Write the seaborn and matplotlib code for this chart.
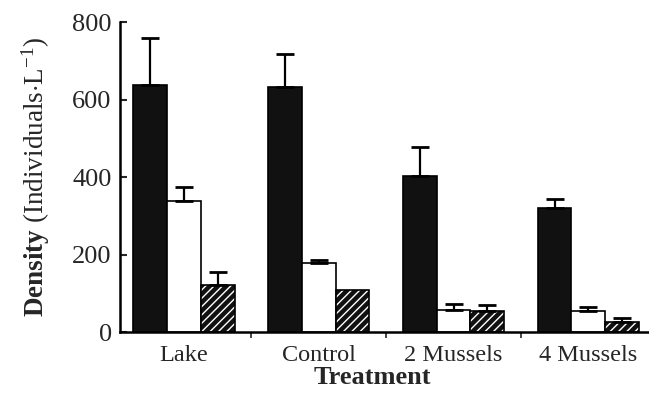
import matplotlib
matplotlib.use("Agg")
import matplotlib.pyplot as plt
import seaborn as sns
import pandas as pd
import numpy as np
from matplotlib.patches import Rectangle

treatments = ["Lake", "Control", "2 Mussels", "4 Mussels"]
series = ["A", "B", "C"]
means_A = [638, 633, 402, 321]
means_B = [339, 179, 57, 54]
means_C = [121, 108, 55, 27]
upper_A = [760, 717, 477, 343]
upper_B = [374, 186, 72, 65]
upper_C = [155, 108, 70, 37]
yticks = [0, 200, 400, 600, 800]

sns.set_theme(style="ticks")
plt.rcParams["font.family"] = ["Liberation Serif", "DejaVu Serif"]
plt.rcParams["mathtext.fontset"] = "custom"
plt.rcParams["mathtext.rm"] = "Liberation Serif"
plt.rcParams["mathtext.bf"] = "Liberation Serif:bold"
plt.rcParams["mathtext.it"] = "Liberation Serif:italic"

rows = []
for s, m in zip(series, [means_A, means_B, means_C]):
    for t, v in zip(treatments, m):
        rows.append({"Treatment": t, "Series": s, "Density": v})
df = pd.DataFrame(rows)

fig = plt.figure(figsize=(6.49, 4.09), dpi=100)
ax = fig.add_axes([0.185, 0.188, 0.815, 0.758])

sns.barplot(data=df, x="Treatment", y="Density", hue="Series", order=treatments,
            hue_order=series, palette=["#111111", "white", "#111111"], errorbar=None,
            width=0.75, edgecolor="black", linewidth=1.2, ax=ax, legend=False)

uppers = {"A": upper_A, "B": upper_B, "C": upper_C}
means = {"A": means_A, "B": means_B, "C": means_C}
for s, cont in zip(series, ax.containers):
    for i, p in enumerate(cont.patches):
        cx = p.get_x() + p.get_width() / 2
        m = means[s][i]
        u = uppers[s][i]
        if u > m:
            ax.errorbar([cx], [m], yerr=[[0], [u - m]], fmt="none", ecolor="black",
                        elinewidth=1.6, capsize=6.5, capthick=2.0, zorder=3)
        if s == "C":
            p.set_hatch("////")
            p.set_edgecolor("white")
            p.set_linewidth(0)
            ax.add_patch(Rectangle((p.get_x(), p.get_y()), p.get_width(), p.get_height(),
                                   fill=False, edgecolor="black", linewidth=1.2, zorder=2.5))

ax.set_ylim(0, 800)
ax.set_xlim(-0.474, 3.45)
ax.set_yticks(yticks)
ax.set_yticklabels([str(v) for v in yticks], fontsize=19)
ax.tick_params(axis="y", direction="in", length=5, width=1.5, pad=6)
ax.tick_params(axis="x", which="major", length=0, labelsize=17.5, pad=9)
ax.set_xticks([0.5, 1.5, 2.5], minor=True)
ax.tick_params(axis="x", which="minor", direction="out", length=4, width=1.2)

ax.set_xlabel("Treatment", fontsize=19, fontweight="bold")
ax.xaxis.set_label_coords((372 - 120) / 529, -0.11)
ax.set_ylabel(r"$\mathbf{Density}$ (Individuals$\cdot$L$^{-1}$)", fontsize=19.5)
ax.yaxis.set_label_coords(-0.128, 0.5)

sns.despine(ax=ax)
for sp in ["left", "bottom"]:
    ax.spines[sp].set_linewidth(1.8)
    ax.spines[sp].set_color("black")

fig.savefig("out.png", dpi=100)
